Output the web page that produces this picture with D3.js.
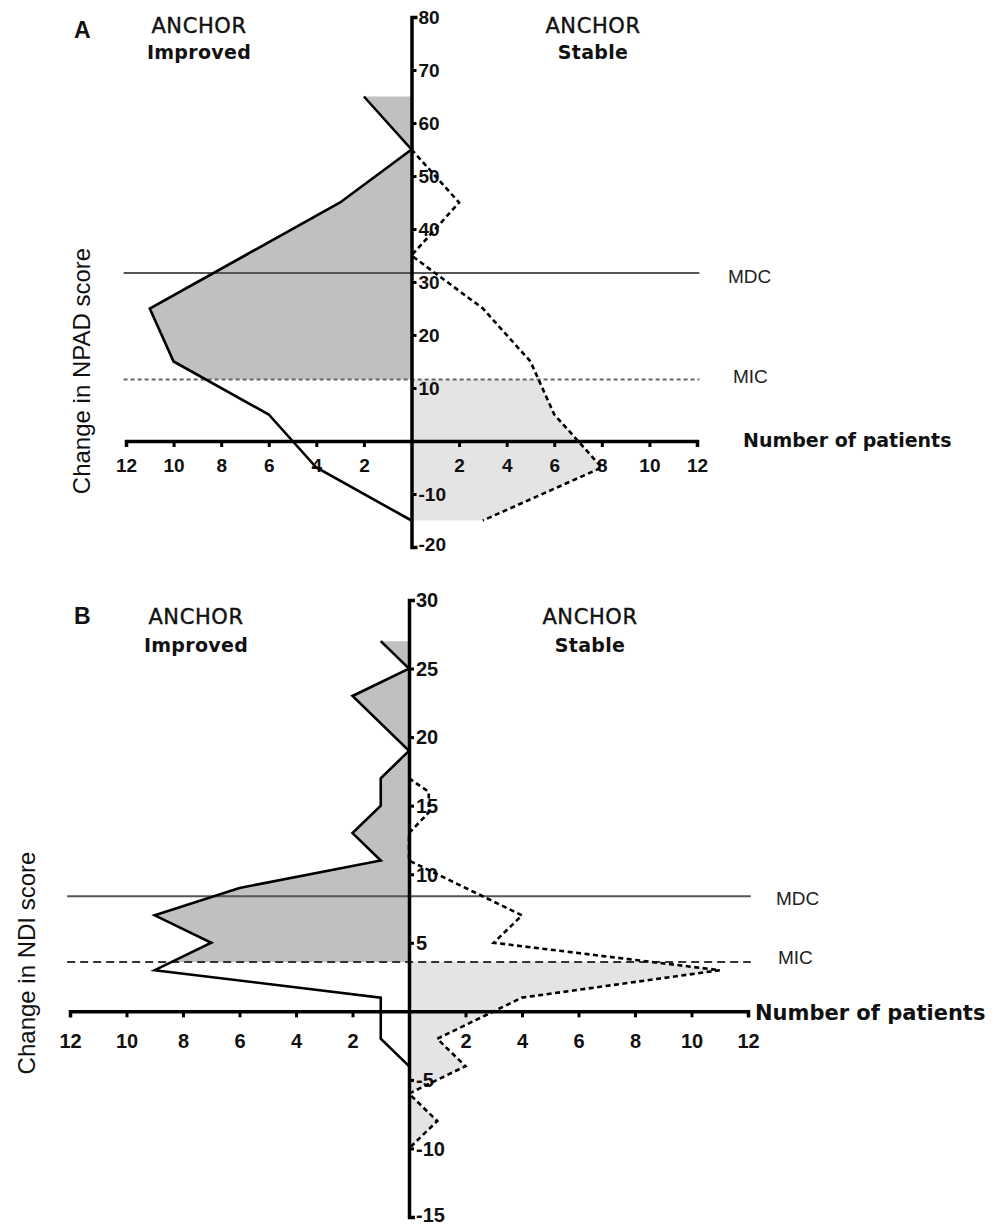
<!DOCTYPE html>
<html><head><meta charset="utf-8">
<script src="https://cdn.jsdelivr.net/npm/d3@7"></script>
<style>
body{margin:0;background:#fff;}
svg{display:block;}
.tick text{font-family:"Liberation Sans",Arial,sans-serif;font-weight:bold;fill:#111;}
</style></head><body>
<svg id="c" width="1003" height="1226"></svg>
<script>
// ---- Panel A (NPAD) ----
const npadImprovedScore = [65, 55, 45, 35, 25, 15, 5, -5, -15];
const npadImprovedCount = [2, 0, 3, 7, 11, 10, 6, 4, 0];
const npadStableScore = [55, 45, 35, 25, 15, 5, -5, -15];
const npadStableCount = [0, 2, 0, 3, 5, 6, 8, 3];
const npadMDC = 31.7;
const npadMIC = 11.6;
const npadYTicks = [-20, -10, 10, 20, 30, 40, 50, 60, 70, 80];
// ---- Panel B (NDI) ----
const ndiImprovedScore = [27, 25, 23, 19, 17, 15, 13, 11, 9, 7, 5, 3, 1, -2, -4];
const ndiImprovedCount = [1, 0, 2, 0, 1, 1, 2, 1, 6, 9, 7, 9, 1, 1, 0];
const ndiStableScore = [17, 16, 14.5, 13, 11, 7, 5, 3, 1, -2, -4, -6, -8, -10];
const ndiStableCount = [0, 0.7, 0.7, 0, 0, 4, 3, 11, 4, 1, 2, 0, 1, 0];
const ndiMDC = 8.4;
const ndiMIC = 3.6;
const ndiYTicks = [-15, -10, -5, 5, 10, 15, 20, 25, 30];
// ---- shared ----
const xTicks = [-12, -10, -8, -6, -4, -2, 2, 4, 6, 8, 10, 12];
const sideLabels = ["ANCHOR", "Improved", "ANCHOR", "Stable"];

const svg = d3.select("#c");
const defs = svg.append("defs");

function panel(cfg){
  const g = svg.append("g");
  const x = d3.scaleLinear().domain([-12, 12]).range(cfg.xr);
  const y = d3.scaleLinear().domain(cfg.yd).range(cfg.yr);
  const imp = cfg.impS.map((s,i)=>({s, c:-cfg.impC[i]}));
  const stb = cfg.stbS.map((s,i)=>({s, c:cfg.stbC[i]}));

  const topId = "clipTop"+cfg.id, botId = "clipBot"+cfg.id;
  defs.append("clipPath").attr("id", topId).append("rect")
    .attr("x", cfg.xr[0]-20).attr("width", cfg.xr[1]-cfg.xr[0]+40)
    .attr("y", y(cfg.yd[1])).attr("height", y(cfg.mic)-y(cfg.yd[1]));
  defs.append("clipPath").attr("id", botId).append("rect")
    .attr("x", cfg.xr[0]-20).attr("width", cfg.xr[1]-cfg.xr[0]+40)
    .attr("y", y(cfg.mic)).attr("height", y(cfg.yd[0])-y(cfg.mic));

  const area = d3.area().y(d=>y(d.s)).x0(x(0)).x1(d=>x(d.c));
  g.append("path").datum(imp).attr("d", area).attr("fill", "#c0c0c0")
    .attr("clip-path", `url(#${topId})`);
  g.append("path").datum(stb).attr("d", area).attr("fill", "#e4e4e4")
    .attr("clip-path", `url(#${botId})`);

  g.append("line").attr("x1", x(-12.1)).attr("x2", x(12.1))
    .attr("y1", y(cfg.mdc)).attr("y2", y(cfg.mdc))
    .attr("stroke", "#555").attr("stroke-width", 2);
  g.append("line").attr("x1", x(-12.1)).attr("x2", x(12.1))
    .attr("y1", y(cfg.mic)).attr("y2", y(cfg.mic))
    .attr("stroke", cfg.micColor).attr("stroke-width", 2)
    .attr("stroke-dasharray", cfg.micDash);

  const lab = (t, xx, yy) => g.append("text").text(t).attr("x", xx).attr("y", yy)
    .attr("font-family", "Liberation Sans, Arial, sans-serif").attr("font-size", 19)
    .attr("fill", "#222");
  lab("MDC", cfg.mdcLab[0], cfg.mdcLab[1]);
  lab("MIC", cfg.micLab[0], cfg.micLab[1]);

  const fmt = d => String(d).replace("\u2212", "-");
  const xAxis = d3.axisBottom(x).tickValues(xTicks).tickFormat(d=>String(Math.abs(d)))
    .tickSizeInner(6).tickSizeOuter(6).tickPadding(cfg.xPad);
  const xa = g.append("g").attr("transform", `translate(0,${y(0)})`).call(xAxis);
  xa.selectAll("text").attr("font-size", cfg.tickFs);
  const yAxis = d3.axisRight(y).tickValues(cfg.yTicks).tickFormat(fmt)
    .tickSizeInner(5).tickSizeOuter(6).tickPadding(2);
  const ya = g.append("g").attr("transform", `translate(${x(0)},0)`).call(yAxis);
  ya.selectAll("text").attr("font-size", cfg.tickFs).attr("text-anchor", "start")
    .attr("dy", d => d === cfg.yd[0] ? "0.2em" : "0.34em");
  [xa, ya].forEach(a=>{
    a.select(".domain").attr("stroke", "#000").attr("stroke-width", 3.5);
    a.selectAll(".tick line").attr("stroke", "#000").attr("stroke-width", 3);
    a.attr("font-family", null).attr("font-size", null);
  });

  const line = d3.line().y(d=>y(d.s)).x(d=>x(d.c));
  g.append("path").datum(imp).attr("d", line).attr("fill", "none")
    .attr("stroke", "#000").attr("stroke-width", 2.6).attr("stroke-linejoin", "miter");
  g.append("path").datum(stb).attr("d", line).attr("fill", "none")
    .attr("stroke", "#000").attr("stroke-width", 2.6).attr("stroke-dasharray", "5,3.5");

  g.append("text").text(cfg.letter).attr("x", cfg.letterPos[0]).attr("y", cfg.letterPos[1])
    .attr("font-family", "Liberation Sans, Arial, sans-serif").attr("font-weight", "bold")
    .attr("font-size", 23).attr("fill", "#111");
  const side = (t1, t2, cx, by) => {
    g.append("text").text(t1).attr("x", cx).attr("y", by).attr("text-anchor", "middle")
      .attr("font-family", "DejaVu Sans, sans-serif").attr("font-size", 21)
      .attr("letter-spacing", 0.6).attr("fill", "#111")
      .attr("stroke", "#111").attr("stroke-width", 0.4);
    g.append("text").text(t2).attr("x", cx).attr("y", by+cfg.lineGap).attr("text-anchor", "middle")
      .attr("font-family", "DejaVu Sans, sans-serif").attr("font-weight", "bold").attr("font-size", 19)
      .attr("letter-spacing", 0.3).attr("fill", "#111");
  };
  side(sideLabels[0], sideLabels[1], cfg.impTitle[0], cfg.impTitle[1]);
  side(sideLabels[2], sideLabels[3], cfg.stbTitle[0], cfg.stbTitle[1]);

  g.append("text").text("Number of patients").attr("x", cfg.nopPos[0]).attr("y", cfg.nopPos[1])
    .attr("font-family", "DejaVu Sans, sans-serif").attr("font-weight", "bold")
    .attr("font-size", cfg.nopFs).attr("fill", "#111");
  g.append("text").text(cfg.yLabel)
    .attr("transform", `translate(${cfg.yLabPos[0]},${cfg.yLabPos[1]}) rotate(-90)`)
    .attr("text-anchor", "middle").attr("dominant-baseline", "central")
    .attr("font-family", "Liberation Sans, Arial, sans-serif").attr("font-size", 24)
    .attr("fill", "#111");
}

panel({id:"A", xr:[126, 697], yd:[-20, 80], yr:[547, 17],
  impS:npadImprovedScore, impC:npadImprovedCount, stbS:npadStableScore, stbC:npadStableCount,
  mdc:npadMDC, mic:npadMIC, micColor:"#666", micDash:"4,3", yTicks:npadYTicks,
  mdcLab:[728, 283], micLab:[733, 383], tickFs:19, xPad:12,
  letter:"A", letterPos:[74, 38], impTitle:[199, 33], stbTitle:[593, 33], lineGap:26,
  nopPos:[743, 447], nopFs:19, yLabel:"Change in NPAD score", yLabPos:[81, 371]});

panel({id:"B", xr:[70, 748], yd:[-15, 30], yr:[1217, 600],
  impS:ndiImprovedScore, impC:ndiImprovedCount, stbS:ndiStableScore, stbC:ndiStableCount,
  mdc:ndiMDC, mic:ndiMIC, micColor:"#333", micDash:"8,5", yTicks:ndiYTicks,
  mdcLab:[776, 905], micLab:[778, 964], tickFs:20, xPad:16,
  letter:"B", letterPos:[74, 624], impTitle:[196, 624], stbTitle:[590, 624], lineGap:28,
  nopPos:[755, 1020], nopFs:21, yLabel:"Change in NDI score", yLabPos:[26, 963]});
</script></body></html>
